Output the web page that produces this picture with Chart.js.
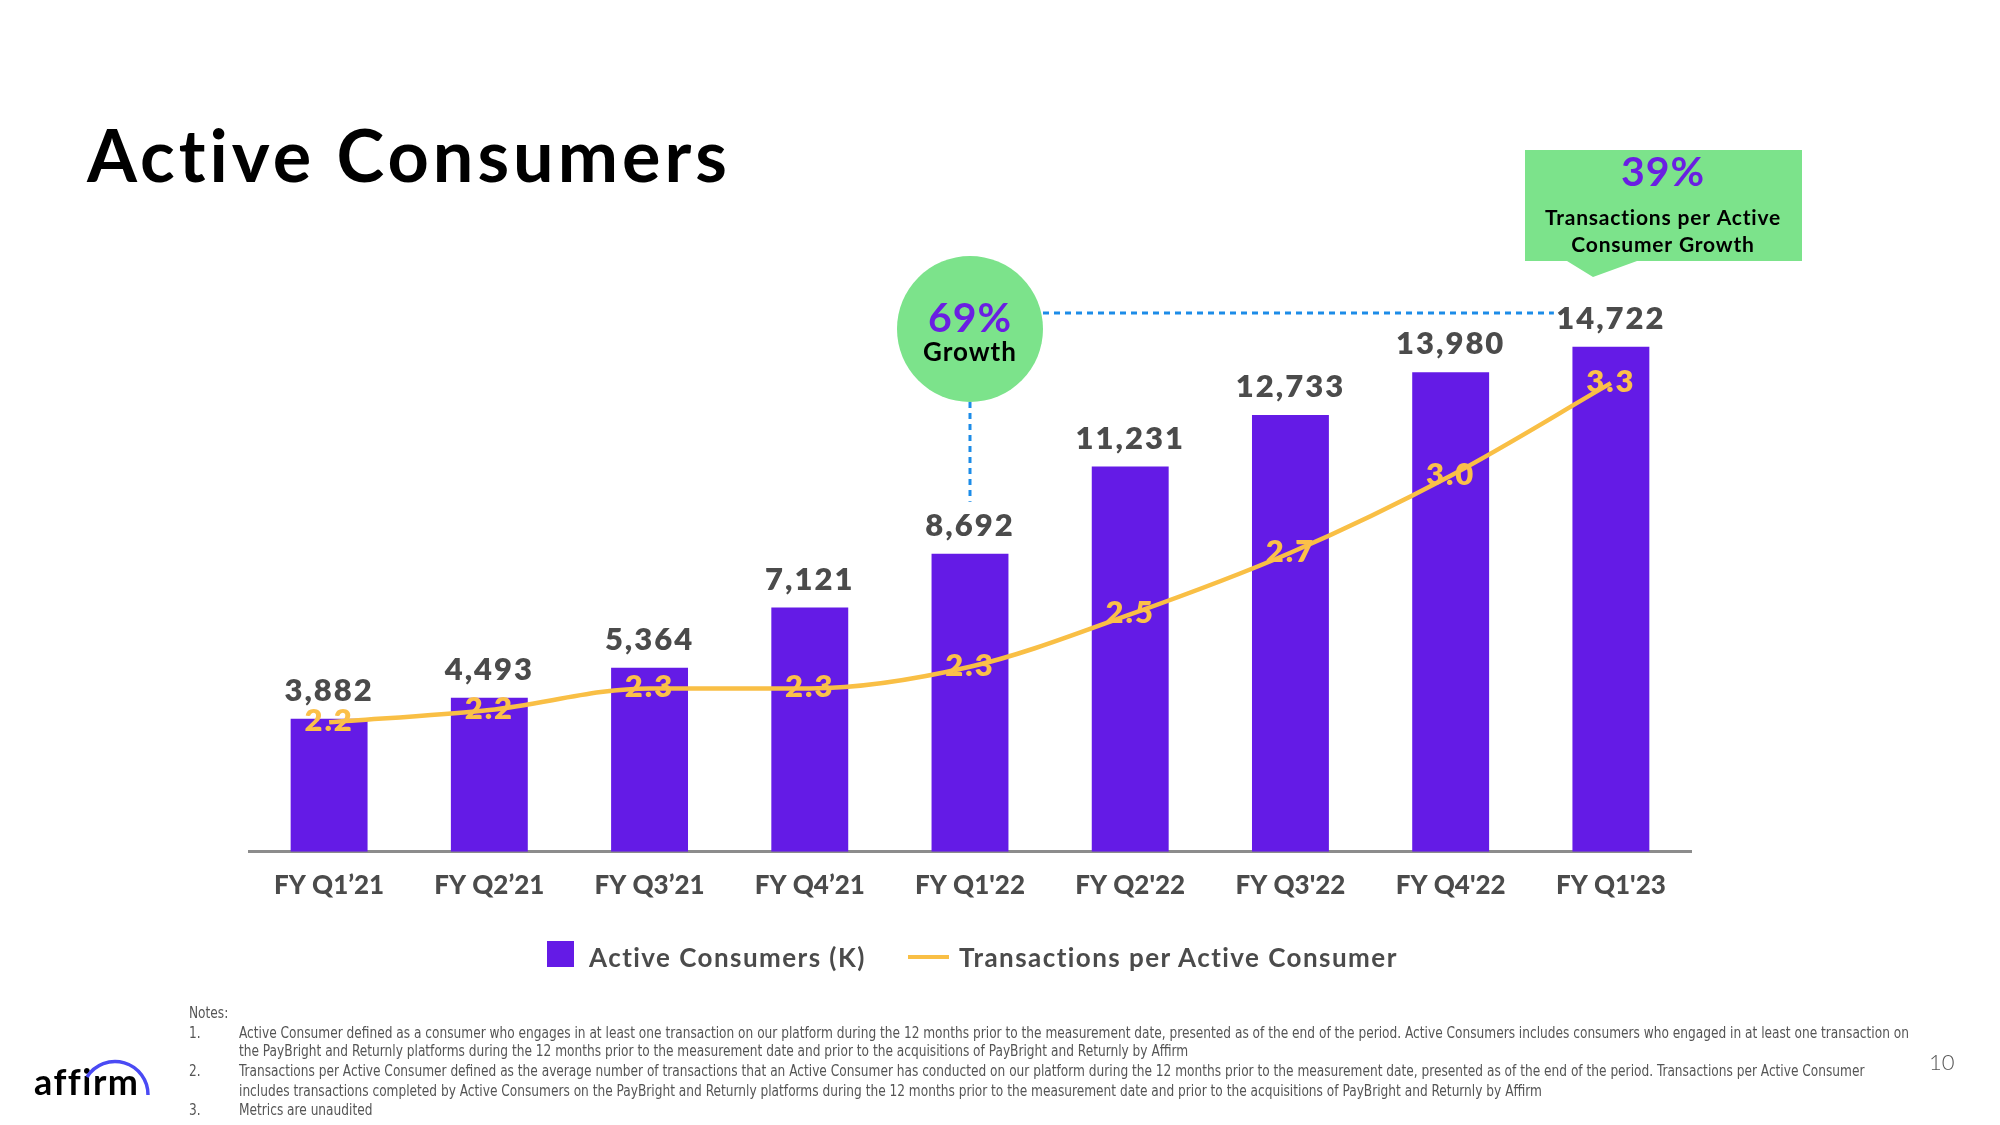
<!DOCTYPE html>
<html lang="en">
<head>
  <meta charset="UTF-8">
  <title>Active Consumers</title>
  <script src="https://cdn.jsdelivr.net/npm/chart.js"></script>
  <style>
    body {
      margin: 0;
      width: 2000px;
      height: 1125px;
      background: #fff;
      position: relative;
      overflow: hidden;
      font-family: Lato, Arial, sans-serif;
    }
    #wrap {
      position: absolute;
      left: 0;
      top: 0;
      width: 2000px;
      height: 1125px;
    }
    h1 {
      position: absolute;
      left: 87px;
      top: 118px;
      margin: 0;
      font-size: 72px;
      line-height: 72px;
      font-weight: 700;
      letter-spacing: 4px;
      color: #000;
    }
    .legend {
      position: absolute;
      top: 941px;
      height: 32px;
      font-size: 26px;
      font-weight: 700;
      letter-spacing: 1.45px;
      color: #4b4b4b;
      line-height: 32px;
    }
    .swatch-bar {
      position: absolute;
      left: 547px;
      top: 941px;
      width: 27px;
      height: 26px;
      background: #641be6;
    }
    .swatch-line {
      position: absolute;
      left: 908px;
      top: 955px;
      width: 41px;
      height: 4px;
      background: #f9bf45;
    }
    .note {
      position: absolute;
      font-family: "Liberation Sans Narrow", "DejaVu Sans Condensed", sans-serif;
      font-size: 15px;
      line-height: 18px;
      color: #555;
      white-space: nowrap;
      transform: scaleX(0.903);
      transform-origin: left center;
    }
    #page {
      position: absolute;
      left: 1929px;
      top: 1048px;
      font-size: 22px;
      font-weight: 300;
      color: #555;
    }
    #logo {
      position: absolute;
      left: 20px;
      top: 1040px;
    }
    #logo text {
      font-variant-ligatures: none;
      letter-spacing: 1.5px;
    }
  </style>
</head>
<body>
  <div id="wrap"><canvas id="chart"></canvas></div>
  <h1>Active Consumers</h1>

  <div class="swatch-bar"></div>
  <div class="legend" style="left:589px">Active Consumers (K)</div>
  <div class="swatch-line"></div>
  <div class="legend" style="left:959px">Transactions per Active Consumer</div>

  <div class="note" style="left:189px; top:1004px">Notes:</div>
  <div class="note" style="left:189px; top:1024px">1.</div>
  <div class="note" style="left:239px; top:1024px">Active Consumer defined as a consumer who engages in at least one transaction on our platform during the 12 months prior to the measurement date, presented as of the end of the period. Active Consumers includes consumers who engaged in at least one transaction on</div>
  <div class="note" style="left:239px; top:1042px">the PayBright and Returnly platforms during the 12 months prior to the measurement date and prior to the acquisitions of PayBright and Returnly by Affirm</div>
  <div class="note" style="left:189px; top:1062px">2.</div>
  <div class="note" style="left:239px; top:1062px">Transactions per Active Consumer defined as the average number of transactions that an Active Consumer has conducted on our platform during the 12 months prior to the measurement date, presented as of the end of the period. Transactions per Active Consumer</div>
  <div class="note" style="left:239px; top:1082px">includes transactions completed by Active Consumers on the PayBright and Returnly platforms during the 12 months prior to the measurement date and prior to the acquisitions of PayBright and Returnly by Affirm</div>
  <div class="note" style="left:189px; top:1101px">3.</div>
  <div class="note" style="left:239px; top:1101px">Metrics are unaudited</div>

  <div id="page">10</div>

  <svg id="logo" width="150" height="70" viewBox="0 0 150 70">
    <text x="14" y="55" font-family="Lato, sans-serif" font-weight="700" font-size="36" fill="#000">affirm</text>
    <path d="M 67 37 A 33 33 0 0 1 128 55" fill="none" stroke="#4a4af4" stroke-width="3.5"/>
  </svg>

  <script>
    const quarters = ["FY Q1’21", "FY Q2’21", "FY Q3’21", "FY Q4’21", "FY Q1'22", "FY Q2'22", "FY Q3'22", "FY Q4'22", "FY Q1'23"];
    const consumers = [3882, 4493, 5364, 7121, 8692, 11231, 12733, 13980, 14722];
    // plotted positions; labels are the printed one-decimal values
    const txnPerConsumer = [2.2, 2.24, 2.31, 2.31, 2.38, 2.55, 2.75, 3.0, 3.3];
    const txnLabels = ["2.2", "2.2", "2.3", "2.3", "2.3", "2.5", "2.7", "3.0", "3.3"];

    const valueLabels = {
      id: 'valueLabels',
      afterDatasetsDraw(chart) {
        const ctx = chart.ctx;
        ctx.save();
        ctx.textAlign = 'center';
        ctx.textBaseline = 'middle';
        ctx.letterSpacing = '2px';
        ctx.font = '800 31px Lato';
        ctx.fillStyle = '#4b4b4b';
        chart.getDatasetMeta(0).data.forEach((bar, i) => {
          ctx.fillText(consumers[i].toLocaleString('en-US'), bar.x, bar.y - 28);
        });
        ctx.fillStyle = '#fbc04a';
        chart.getDatasetMeta(1).data.forEach((pt, i) => {
          ctx.fillText(txnLabels[i], pt.x, pt.y - 1);
        });
        ctx.restore();
      }
    };

    // green circle, dotted guides and the callout box
    const callouts = {
      id: 'callouts',
      afterDraw(chart) {
        const ctx = chart.ctx;
        const bars = chart.getDatasetMeta(0).data;
        const cx = bars[4].x, cy = 329, r = 73;
        ctx.save();

        ctx.strokeStyle = '#1c8ce8';
        ctx.lineWidth = 3;
        ctx.setLineDash([6, 5]);
        ctx.beginPath();
        ctx.moveTo(cx, cy + r);
        ctx.lineTo(cx, bars[4].y - 52);
        ctx.moveTo(cx + r, 313);
        ctx.lineTo(bars[8].x - 57, 313);
        ctx.stroke();
        ctx.setLineDash([]);

        ctx.fillStyle = '#7ce38b';
        ctx.beginPath();
        ctx.arc(cx, cy, r, 0, Math.PI * 2);
        ctx.fill();

        ctx.beginPath();
        ctx.rect(1525, 150, 277, 111);
        ctx.moveTo(1567, 261);
        ctx.lineTo(1593, 277);
        ctx.lineTo(1637, 261);
        ctx.fill();

        ctx.textAlign = 'center';
        ctx.textBaseline = 'middle';
        ctx.fillStyle = '#6a1fe2';
        ctx.font = '700 41px Lato';
        ctx.letterSpacing = '1px';
        ctx.fillText('69%', cx, 319);
        ctx.fillText('39%', 1663, 173);
        ctx.fillStyle = '#000';
        ctx.font = '700 26px Lato';
        ctx.fillText('Growth', cx, 353);
        ctx.font = '700 21px Lato';
        ctx.letterSpacing = '0.8px';
        ctx.fillText('Transactions per Active', 1663, 218);
        ctx.fillText('Consumer Growth', 1663, 245);
        ctx.restore();
      }
    };

    new Chart(document.getElementById('chart'), {
      data: {
        labels: quarters,
        datasets: [
          {
            type: 'bar',
            label: 'Active Consumers (K)',
            data: consumers,
            backgroundColor: '#641be6',
            barPercentage: 0.48,
            categoryPercentage: 1.0,
            yAxisID: 'y',
            order: 2
          },
          {
            type: 'line',
            label: 'Transactions per Active Consumer',
            data: txnPerConsumer,
            borderColor: '#f9bf45',
            borderWidth: 4.5,
            pointRadius: 0,
            cubicInterpolationMode: 'monotone',
            yAxisID: 'y2',
            order: 1
          }
        ]
      },
      options: {
        responsive: true,
        maintainAspectRatio: false,
        animation: false,
        layout: {
          padding: { left: 249, right: 309, top: 303, bottom: 206 }
        },
        plugins: {
          legend: { display: false },
          tooltip: { enabled: false }
        },
        scales: {
          x: {
            grid: { display: false, drawTicks: false },
            border: { display: true, color: '#8c8c8c', width: 3 },
            ticks: {
              padding: 18,
              color: '#4b4b4b',
              font: { family: 'Lato', size: 26, weight: '900' }
            }
          },
          y: { display: false, min: 0, max: 16000 },
          y2: { display: false, position: 'right', min: 1.78, max: 3.56 }
        }
      },
      plugins: [valueLabels, callouts]
    });
  </script>
</body>
</html>
